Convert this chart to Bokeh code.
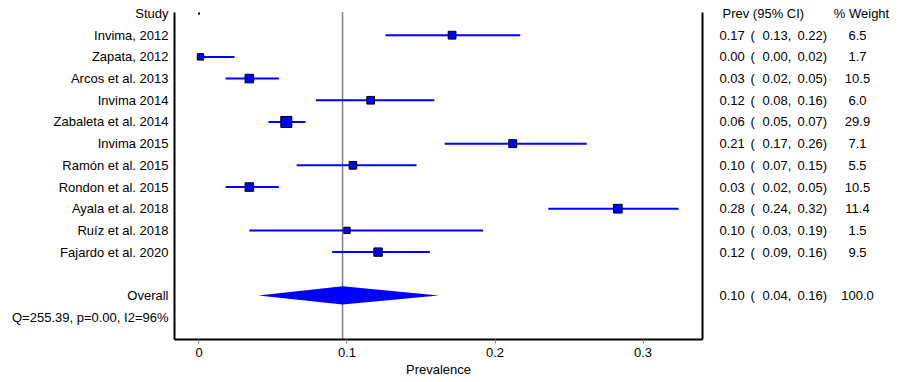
import math
from bokeh.plotting import figure
from bokeh.layouts import row
from bokeh.models import Range1d, FixedTicker, LinearAxis, ColumnDataSource
from bokeh.core.properties import value
from bokeh.embed import file_html
from bokeh.resources import INLINE

# ---- data ----
studies = ["Invima, 2012", "Zapata, 2012", "Arcos et al. 2013", "Invima 2014",
           "Zabaleta et al. 2014", "Invima 2015", "Ramón et al. 2015",
           "Rondon et al. 2015", "Ayala et al. 2018", "Ruíz et al. 2018",
           "Fajardo et al. 2020"]
prev = [0.171, 0.001, 0.034, 0.116, 0.059, 0.212, 0.104, 0.034, 0.283, 0.100, 0.121]
lower = [0.126, 0.000, 0.018, 0.079, 0.047, 0.166, 0.066, 0.018, 0.236, 0.034, 0.090]
upper = [0.217, 0.024, 0.054, 0.159, 0.072, 0.262, 0.147, 0.054, 0.324, 0.192, 0.156]
weight = [6.5, 1.7, 10.5, 6.0, 29.9, 7.1, 5.5, 10.5, 11.4, 1.5, 9.5]
overall_prev = 0.097
overall_lower = 0.040
overall_upper = 0.162
overall_weight = 100.0
heterogeneity = "Q=255.39, p=0.00, I2=96%"
x_ticks = [0, 0.1, 0.2, 0.3]
x_label = "Prevalence"
header_study = "Study"
header_prev = "Prev (95% CI)"
header_weight = "% Weight"

FONT = "Liberation Sans"
FS = "13px"
BLUE = "#0000FF"

study_rows = list(range(1, len(studies) + 1))
overall_row = len(studies) + 2
het_row = overall_row + 1

# vertical extent (in row units) of the bordered panel; the frame reaches higher
box_top, box_bottom = -0.05, 15.03
y_range = Range1d(box_bottom, -0.6)

# ---- main forest plot ----
p = figure(frame_width=528, frame_height=339, min_border_left=174, min_border_right=2,
           min_border_top=0, min_border_bottom=35,
           x_range=Range1d(-0.01655, 0.3402), y_range=y_range,
           output_backend="svg", toolbar_location=None, x_axis_location=None,
           y_axis_location=None)
p.grid.visible = False
p.outline_line_color = None
p.background_fill_color = "white"

xaxis = LinearAxis(ticker=FixedTicker(ticks=x_ticks), axis_label=x_label)
xaxis.major_label_overrides = {0: "0", 0.1: "0.1", 0.2: "0.2", 0.3: "0.3"}
xaxis.axis_line_width = 2
xaxis.axis_line_color = "black"
xaxis.major_tick_in = 0
xaxis.major_tick_out = 4
xaxis.major_tick_line_color = "#888888"
xaxis.minor_tick_line_color = None
xaxis.major_label_standoff = 4
xaxis.axis_label_standoff = 2
xaxis.major_label_text_font = FONT
xaxis.major_label_text_font_size = FS
xaxis.major_label_text_color = "black"
xaxis.axis_label_text_font = FONT
xaxis.axis_label_text_font_size = FS
xaxis.axis_label_text_font_style = "normal"
xaxis.axis_label_text_color = "black"
p.add_layout(xaxis, "below")

left_ticks = [0] + study_rows + [overall_row, het_row]
left_labels = {0: header_study}
for r, s in zip(study_rows, studies):
    left_labels[r] = s
left_labels[overall_row] = "Overall"
left_labels[het_row] = heterogeneity
yaxis = LinearAxis(ticker=FixedTicker(ticks=left_ticks), bounds=(box_top, box_bottom))
yaxis.major_label_overrides = left_labels
yaxis.axis_line_width = 2
yaxis.axis_line_color = "black"
yaxis.major_tick_in = 0
yaxis.major_tick_out = 0
yaxis.minor_tick_line_color = None
yaxis.major_label_standoff = 6
yaxis.major_label_text_font = FONT
yaxis.major_label_text_font_size = FS
yaxis.major_label_text_color = "black"
p.add_layout(yaxis, "left")

raxis = LinearAxis(ticker=FixedTicker(ticks=[]), bounds=(box_top, box_bottom))
raxis.axis_line_width = 2
raxis.axis_line_color = "black"
raxis.major_tick_in = 0
raxis.major_tick_out = 0
raxis.minor_tick_line_color = None
raxis.major_label_text_font_size = "0px"
p.add_layout(raxis, "right")

# dotted reference line at the pooled estimate
p.segment(x0=[overall_prev], x1=[overall_prev], y0=[box_top], y1=[box_bottom],
          line_color="black", line_dash="1 1", line_width=1.5)

src = ColumnDataSource(dict(y=study_rows, prev=prev, lo=lower, hi=upper,
                            size=[5 + 1.1 * math.sqrt(w) for w in weight]))
p.segment(x0="lo", x1="hi", y0="y", y1="y", source=src, line_color=BLUE, line_width=2)
p.scatter(x="prev", y="y", size="size", marker="square", source=src,
          fill_color=BLUE, line_color="black", line_width=1)

# header dot
p.scatter(x=[0], y=[0], size=2, marker="square", fill_color="black", line_color=None)

# overall diamond
dh = 0.42
p.patch(x=[overall_lower, overall_prev, overall_upper, overall_prev],
        y=[overall_row, overall_row - dh, overall_row, overall_row + dh],
        fill_color=BLUE, line_color=None)

# ---- right-hand text columns ----
q = figure(frame_width=189, frame_height=339, min_border_left=0, min_border_right=0,
           min_border_top=0, min_border_bottom=35,
           x_range=Range1d(704, 893), y_range=y_range,
           output_backend="svg", toolbar_location=None,
           x_axis_location=None, y_axis_location=None)
q.grid.visible = False
q.outline_line_color = None

rows_all = study_rows + [overall_row]
est_all = prev + [overall_prev]
lo_all = lower + [overall_lower]
hi_all = upper + [overall_upper]
w_all = weight + [overall_weight]

tsrc = ColumnDataSource(dict(
    y=rows_all,
    est=[f"{v:.2f}" for v in est_all],
    lo=[f"{v:.2f}," for v in lo_all],
    hi=[f"{v:.2f})" for v in hi_all],
    w=[f"{v:.1f}" for v in w_all],
    par=["("] * len(rows_all),
))
common = dict(text_font=value(FONT), text_font_size=FS, text_baseline="middle",
              text_color="black")
q.text(x=719, y="y", text="est", source=tsrc, text_align="left", **common)
q.text(x=750, y="y", text="par", source=tsrc, text_align="left", **common)
q.text(x=762, y="y", text="lo", source=tsrc, text_align="left", **common)
q.text(x=797, y="y", text="hi", source=tsrc, text_align="left", **common)
q.text(x=857, y="y", text="w", source=tsrc, text_align="center", **common)
q.text(x=[722], y=[0], text=[header_prev], text_align="left", **common)
q.text(x=[861], y=[0], text=[header_weight], text_align="center", **common)

layout = row(p, q, spacing=0)
open("out.html", "w").write(file_html(layout, INLINE))
